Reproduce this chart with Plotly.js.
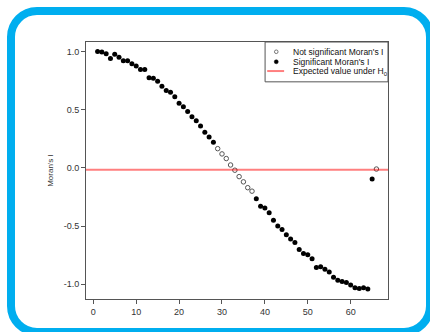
<!DOCTYPE html>
<html>
<head>
<meta charset="utf-8">
<script src="https://cdn.plot.ly/plotly-3.0.1.min.js"></script>
<style>
  html, body { margin: 0; padding: 0; width: 430px; height: 332px; overflow: hidden; background: #ffffff; }
  #frame { position: absolute; left: 7px; top: 7px; width: 411px; height: 313px;
           border: 8px solid #00AEEF; border-radius: 30px; background: #ffffff; }
  #chart { position: absolute; left: 0; top: 0; width: 430px; height: 332px; }
</style>
</head>
<body>
<div id="frame"></div>
<div id="chart"></div>
<script>
// Lag distance classes
const lags = [1,2,3,4,5,6,7,8,9,10,11,12,13,14,15,16,17,18,19,20,21,22,23,24,25,26,27,28,29,30,31,32,33,34,35,36,37,38,39,40,41,42,43,44,45,46,47,48,49,50,51,52,53,54,55,56,57,58,59,60,61,62,63,64,65,66];
// Moran's I per lag
const moranI = [1.0,0.995,0.98,0.94,0.975,0.95,0.92,0.92,0.895,0.875,0.845,0.845,0.775,0.77,0.745,0.70,0.665,0.65,0.61,0.555,0.525,0.485,0.44,0.405,0.36,0.305,0.265,0.22,0.165,0.12,0.08,0.025,-0.02,-0.075,-0.12,-0.17,-0.2,-0.265,-0.33,-0.345,-0.385,-0.45,-0.5,-0.53,-0.575,-0.61,-0.64,-0.70,-0.735,-0.745,-0.78,-0.855,-0.85,-0.87,-0.895,-0.94,-0.965,-0.975,-0.985,-1.005,-1.03,-1.035,-1.03,-1.04,-0.095,-0.01];
// significance flag per lag (1 = significant)
const significant = [1,1,1,1,1,1,1,1,1,1,1,1,1,1,1,1,1,1,1,1,1,1,1,1,1,1,1,1,0,0,0,0,0,0,0,0,0,1,1,1,1,1,1,1,1,1,1,1,1,1,1,1,1,1,1,1,1,1,1,1,1,1,1,1,1,0];
// expected value under H0
const expectedValue = -0.015;
const xTicks = [0,10,20,30,40,50,60];
const yTicks = [-1.0,-0.5,0.0,0.5,1.0];
const legendLabels = ["Not significant Moran's I", "Significant Moran's I", "Expected value under H<sub>0</sub>"];

const sigX = [], sigY = [], nsX = [], nsY = [];
lags.forEach((l, i) => {
  if (significant[i]) { sigX.push(l); sigY.push(moranI[i]); }
  else { nsX.push(l); nsY.push(moranI[i]); }
});

const traces = [
  { type: 'scatter', mode: 'markers', x: nsX, y: nsY, name: legendLabels[0],
    marker: { symbol: 'circle-open', size: 4.5, color: '#555555', line: { width: 1, color: '#555555' } },
    hoverinfo: 'x+y' },
  { type: 'scatter', mode: 'markers', x: sigX, y: sigY, name: legendLabels[1],
    marker: { symbol: 'circle', size: 5, color: '#000000' }, hoverinfo: 'x+y' }
];

const legX = 0.593, legY0 = 0.845;
const symX = 0.630, txtX = 0.680;
const rowY = [0.962, 0.923, 0.887];

const shapes = [
  { type: 'line', xref: 'paper', yref: 'y', x0: 0, x1: 1, y0: expectedValue, y1: expectedValue,
    line: { color: 'rgba(255,0,0,0.5)', width: 2 }, layer: 'above' },
  { type: 'rect', xref: 'paper', yref: 'paper', x0: legX, x1: 1, y0: legY0, y1: 1,
    line: { color: '#555555', width: 1 }, fillcolor: '#ffffff', layer: 'above' },
  { type: 'circle', xref: 'paper', yref: 'paper', xsizemode: 'pixel', ysizemode: 'pixel',
    xanchor: symX, yanchor: rowY[0], x0: -1.8, x1: 1.8, y0: -1.8, y1: 1.8,
    line: { color: '#555555', width: 0.8 }, fillcolor: 'rgba(0,0,0,0)', layer: 'above' },
  { type: 'circle', xref: 'paper', yref: 'paper', xsizemode: 'pixel', ysizemode: 'pixel',
    xanchor: symX, yanchor: rowY[1], x0: -2, x1: 2, y0: -2, y1: 2,
    line: { color: '#000000', width: 0.5 }, fillcolor: '#000000', layer: 'above' },
  { type: 'line', xref: 'paper', yref: 'paper', x0: 0.600, x1: 0.656, y0: rowY[2], y1: rowY[2],
    line: { color: 'rgba(255,0,0,0.5)', width: 2 }, layer: 'above' }
];

const annotations = legendLabels.map((t, i) => ({
  xref: 'paper', yref: 'paper', x: txtX, y: rowY[i], xanchor: 'left', yanchor: 'middle',
  text: t, showarrow: false, font: { family: 'Liberation Sans, Arial, sans-serif', size: 8.5, color: '#111111' }
}));

const layout = {
  width: 430, height: 332,
  margin: { l: 86, r: 42, t: 42, b: 33 },
  paper_bgcolor: 'rgba(0,0,0,0)',
  plot_bgcolor: 'rgba(0,0,0,0)',
  showlegend: false,
  font: { family: 'Liberation Sans, Arial, sans-serif', size: 9, color: '#333333' },
  xaxis: {
    range: [-1.7, 68.7], tickmode: 'array', tickvals: xTicks, ticktext: xTicks.map(String),
    showgrid: false, zeroline: false, showline: true, mirror: true, linecolor: '#555555', linewidth: 1,
    ticks: 'outside', ticklen: 4, tickcolor: '#555555', tickfont: { size: 9, color: '#333333' }
  },
  yaxis: {
    range: [-1.126, 1.081], tickmode: 'array', tickvals: yTicks, ticktext: yTicks.map(v => v.toFixed(1)),
    showgrid: false, zeroline: false, showline: true, mirror: true, linecolor: '#555555', linewidth: 1,
    ticks: 'outside', ticklen: 4, tickcolor: '#555555', tickfont: { size: 9, color: '#333333' },
    title: { text: "Moran's I", font: { size: 8, color: '#333333' }, standoff: 8 }
  },
  shapes: shapes,
  annotations: annotations
};

Plotly.newPlot('chart', traces, layout, { staticPlot: true, displayModeBar: false });
</script>
</body>
</html>
